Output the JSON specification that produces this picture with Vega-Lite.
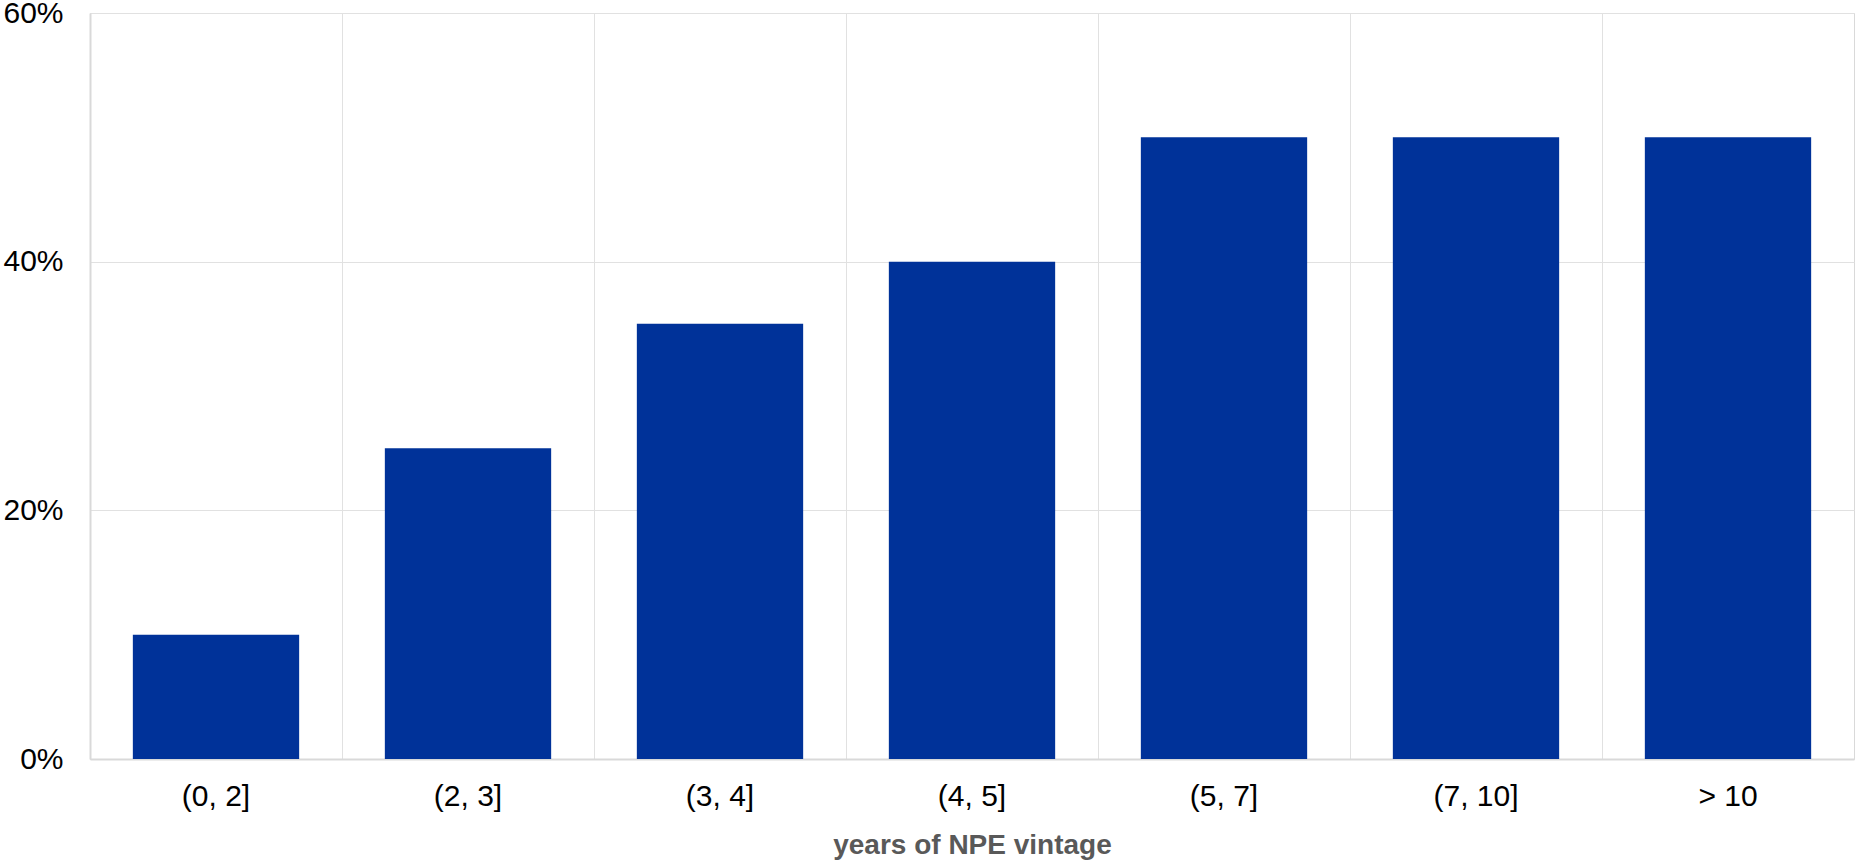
{
  "$schema": "https://vega.github.io/schema/vega-lite/v6.json",
  "autosize": {"type": "none"},
  "padding": {"left": 90, "top": 13, "right": 2, "bottom": 104},
  "width": 1764,
  "height": 746,
  "background": "white",
  "data": {
    "values": [
      {"vintage": "(0, 2]", "share": 0.10},
      {"vintage": "(2, 3]", "share": 0.25},
      {"vintage": "(3, 4]", "share": 0.35},
      {"vintage": "(4, 5]", "share": 0.40},
      {"vintage": "(5, 7]", "share": 0.50},
      {"vintage": "(7, 10]", "share": 0.50},
      {"vintage": "> 10", "share": 0.50}
    ]
  },
  "mark": {"type": "bar", "color": "#003299", "width": {"band": 0.66}},
  "encoding": {
    "x": {
      "field": "vintage",
      "type": "nominal",
      "sort": null,
      "scale": {"paddingInner": 0, "paddingOuter": 0},
      "axis": {
        "title": "years of NPE vintage",
        "titleFont": "Liberation Sans",
        "titleFontSize": 28,
        "titleFontWeight": "bold",
        "titleColor": "#595959",
        "titlePadding": 20,
        "labelFont": "Liberation Sans",
        "labelFontSize": 30,
        "labelColor": "#000000",
        "labelAngle": 0,
        "labelPadding": 22,
        "bandPosition": 0,
        "ticks": false,
        "grid": true,
        "gridColor": "#e1e1e1",
        "gridWidth": 1,
        "domainColor": "#d9d9d9",
        "domainWidth": 2
      }
    },
    "y": {
      "field": "share",
      "type": "quantitative",
      "scale": {"domain": [0, 0.6]},
      "axis": {
        "title": null,
        "format": ".0%",
        "values": [0, 0.2, 0.4, 0.6],
        "labelFont": "Liberation Sans",
        "labelFontSize": 30,
        "labelColor": "#000000",
        "labelPadding": 27,
        "ticks": false,
        "grid": true,
        "gridColor": "#e1e1e1",
        "gridWidth": 1,
        "domainColor": "#d9d9d9",
        "domainWidth": 2
      }
    }
  },
  "config": {
    "view": {"stroke": "#d9d9d9", "strokeWidth": 1}
  }
}
